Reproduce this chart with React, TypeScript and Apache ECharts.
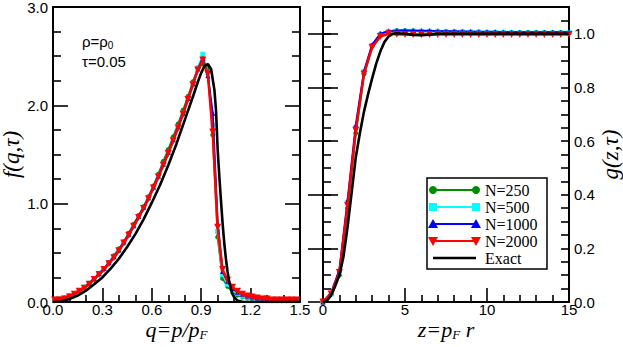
import React, { useEffect, useRef } from "react";
import * as echarts from "echarts";

// ---------- Left panel: f(q, tau) ----------
const qGrid = [
  0.01, 0.04, 0.07, 0.10, 0.13, 0.16, 0.19, 0.22, 0.25, 0.28,
  0.31, 0.34, 0.37, 0.40, 0.43, 0.46, 0.49, 0.52, 0.55, 0.58,
  0.61, 0.64, 0.67, 0.70, 0.73, 0.76, 0.79, 0.82, 0.85, 0.88,
  0.91, 0.94, 0.97, 1.00, 1.03, 1.06, 1.09, 1.12, 1.15, 1.18,
  1.21, 1.24, 1.27, 1.30, 1.33, 1.36, 1.39, 1.42, 1.45, 1.48,
];
const fN250 = [
  0.02, 0.03, 0.04, 0.06, 0.08, 0.11, 0.15, 0.19, 0.23, 0.29,
  0.34, 0.40, 0.47, 0.54, 0.61, 0.70, 0.79, 0.88, 0.97, 1.07,
  1.18, 1.30, 1.43, 1.55, 1.68, 1.81, 1.95, 2.09, 2.24, 2.38,
  2.42, 2.38, 1.70, 0.66, 0.24, 0.16, 0.10, 0.07, 0.05, 0.04,
  0.03, 0.03, 0.02, 0.02, 0.02, 0.02, 0.02, 0.02, 0.02, 0.02,
];
const fN500 = [
  0.02, 0.03, 0.04, 0.06, 0.08, 0.11, 0.15, 0.19, 0.23, 0.28,
  0.34, 0.40, 0.46, 0.53, 0.60, 0.68, 0.77, 0.87, 0.96, 1.06,
  1.16, 1.28, 1.40, 1.52, 1.65, 1.78, 1.92, 2.07, 2.22, 2.38,
  2.52, 2.33, 1.80, 0.72, 0.28, 0.18, 0.12, 0.09, 0.06, 0.05,
  0.04, 0.03, 0.03, 0.02, 0.02, 0.02, 0.02, 0.02, 0.02, 0.02,
];
const fN1000 = [
  0.03, 0.03, 0.04, 0.06, 0.09, 0.12, 0.15, 0.19, 0.24, 0.29,
  0.34, 0.40, 0.46, 0.53, 0.61, 0.69, 0.78, 0.87, 0.96, 1.06,
  1.17, 1.28, 1.40, 1.52, 1.65, 1.78, 1.92, 2.07, 2.22, 2.37,
  2.48, 2.30, 1.92, 0.80, 0.31, 0.21, 0.14, 0.10, 0.08, 0.06,
  0.05, 0.04, 0.04, 0.03, 0.03, 0.03, 0.03, 0.03, 0.03, 0.03,
];
const fN2000 = [
  0.02, 0.02, 0.03, 0.05, 0.08, 0.11, 0.14, 0.18, 0.23, 0.28,
  0.33, 0.39, 0.45, 0.52, 0.60, 0.68, 0.77, 0.86, 0.95, 1.05,
  1.16, 1.27, 1.39, 1.51, 1.64, 1.77, 1.91, 2.06, 2.21, 2.36,
  2.46, 2.32, 1.73, 0.76, 0.33, 0.22, 0.15, 0.11, 0.08, 0.06,
  0.05, 0.04, 0.03, 0.03, 0.02, 0.02, 0.02, 0.02, 0.02, 0.02,
];
const qExact = [
  0.0, 0.05, 0.10, 0.15, 0.20, 0.25, 0.30, 0.35, 0.40, 0.45,
  0.50, 0.55, 0.60, 0.65, 0.70, 0.75, 0.80, 0.85, 0.88, 0.90,
  0.92, 0.94, 0.96, 0.98, 0.99, 1.00, 1.01, 1.02, 1.03, 1.04,
  1.05, 1.06, 1.07, 1.08, 1.09, 1.10, 1.12, 1.15, 1.20, 1.30,
  1.40, 1.50,
];
const fExact = [
  0.0, 0.005, 0.03, 0.065, 0.115, 0.18, 0.25, 0.34, 0.44, 0.56,
  0.69, 0.84, 1.01, 1.19, 1.39, 1.61, 1.85, 2.09, 2.24, 2.33,
  2.40, 2.42, 2.37, 2.16, 1.95, 1.55, 1.28, 1.03, 0.80, 0.60,
  0.44, 0.31, 0.21, 0.14, 0.08, 0.05, 0.015, 0.003, 0.0, 0.0,
  0.0, 0.0,
];

// ---------- Right panel: g(z, tau) ----------
const zGrid = [
  0, 0.5, 1, 1.5, 2, 2.5, 3, 3.5, 4, 4.5,
  5, 5.5, 6, 6.5, 7, 7.5, 8, 8.5, 9, 9.5,
  10, 10.5, 11, 11.5, 12, 12.5, 13, 13.5, 14, 14.5, 15,
];
const gN250 = [
  0, 0.03, 0.10, 0.35, 0.63, 0.85, 0.955, 1.0, 1.01, 1.012,
  1.012, 1.011, 1.01, 1.01, 1.01, 1.009, 1.008, 1.008, 1.007, 1.007,
  1.006, 1.006, 1.006, 1.005, 1.005, 1.005, 1.005, 1.005, 1.005, 1.005, 1.005,
];
const gN500 = [
  0, 0.03, 0.115, 0.37, 0.65, 0.86, 0.955, 0.995, 1.008, 1.01,
  1.01, 1.01, 1.009, 1.009, 1.008, 1.008, 1.007, 1.007, 1.006, 1.006,
  1.005, 1.005, 1.005, 1.005, 1.004, 1.004, 1.004, 1.004, 1.004, 1.004, 1.004,
];
const gN1000 = [
  0, 0.035, 0.12, 0.38, 0.66, 0.86, 0.96, 1.0, 1.01, 1.012,
  1.012, 1.012, 1.011, 1.011, 1.01, 1.01, 1.01, 1.009, 1.009, 1.008,
  1.008, 1.008, 1.007, 1.007, 1.007, 1.007, 1.007, 1.007, 1.007, 1.007, 1.007,
];
const gN2000 = [
  0, 0.03, 0.11, 0.36, 0.64, 0.85, 0.95, 0.99, 1.0, 0.998,
  0.997, 0.997, 0.997, 0.997, 0.997, 0.997, 0.997, 0.997, 0.997, 0.997,
  0.997, 0.997, 0.997, 0.997, 0.997, 0.997, 0.997, 0.997, 0.997, 0.997, 0.997,
];
const zExact = [
  0, 0.25, 0.5, 0.75, 1.0, 1.25, 1.5, 1.75, 2.0, 2.25,
  2.5, 2.75, 3.0, 3.25, 3.5, 3.75, 4.0, 4.25, 4.5, 5.0,
  5.5, 6.0, 6.5, 7.0, 8.0, 10.0, 12.0, 15.0,
];
const gExact = [
  0, 0.005, 0.025, 0.06, 0.10, 0.17, 0.28, 0.41, 0.54, 0.63,
  0.71, 0.775, 0.835, 0.89, 0.935, 0.97, 0.99, 1.0, 1.002, 1.0,
  0.996, 0.995, 0.997, 1.0, 1.0, 1.0, 1.0, 1.0,
];

const seriesNames = ["N=250", "N=500", "N=1000", "N=2000", "Exact"];
const seriesColors = ["#008c00", "#00ffff", "#0000ff", "#ff0000", "#000000"];

const pairs = (xs: number[], ys: number[]) => xs.map((x, i) => [x, ys[i]]);

const SANS = "Liberation Sans";
const SERIF = "Liberation Serif";

export default function App() {
  const ref = useRef<HTMLDivElement>(null);

  useEffect(() => {
    document.body.style.margin = "0";
    if (!ref.current) return;
    const chart = echarts.init(ref.current, undefined, { renderer: "svg" });

    const labelStyle = { fontFamily: SANS, fontSize: 15, color: "#000" };
    const xLabelStyle = { ...labelStyle, lineHeight: 13, margin: 1 };
    const tickMajor = (len: number) => ({
      show: true,
      inside: true,
      length: len,
      lineStyle: { color: "#000", width: 1.6 },
    });
    const nameRich = {
      a: { fontFamily: SERIF, fontStyle: "italic", fontSize: 22, lineHeight: 24, color: "#000" },
      b: { fontFamily: SERIF, fontStyle: "italic", fontSize: 13, lineHeight: 10, verticalAlign: "bottom", color: "#000" },
    };

    const markerDefs = [
      { symbol: "circle", size: 5, rotate: 0 },
      { symbol: "rect", size: 5, rotate: 0 },
      { symbol: "triangle", size: 5, rotate: 0 },
      { symbol: "triangle", size: 7, rotate: 180 },
    ];

    const leftData = [fN250, fN500, fN1000, fN2000];
    const rightData = [gN250, gN500, gN1000, gN2000];

    const series: any[] = [];
    leftData.forEach((ys, i) => {
      series.push({
        type: "line",
        name: seriesNames[i],
        xAxisIndex: 0,
        yAxisIndex: 0,
        data: pairs(qGrid, ys),
        symbol: markerDefs[i].symbol,
        symbolSize: markerDefs[i].size,
        symbolRotate: markerDefs[i].rotate,
        showSymbol: true,
        lineStyle: { color: seriesColors[i], width: i === 3 ? 2.5 : 2 },
        itemStyle: { color: seriesColors[i] },
        z: 2 + i,
      });
    });
    series.push({
      type: "line",
      name: "Exact",
      xAxisIndex: 0,
      yAxisIndex: 0,
      data: pairs(qExact, fExact),
      symbol: "none",
      lineStyle: { color: "#000", width: 2.6 },
      z: 10,
    });
    rightData.forEach((ys, i) => {
      series.push({
        type: "line",
        name: seriesNames[i],
        xAxisIndex: 1,
        yAxisIndex: 2,
        data: pairs(zGrid, ys),
        symbol: markerDefs[i].symbol,
        symbolSize: markerDefs[i].size,
        symbolRotate: markerDefs[i].rotate,
        showSymbol: true,
        lineStyle: { color: seriesColors[i], width: i === 3 ? 2.5 : 2 },
        itemStyle: { color: seriesColors[i] },
        z: 2 + i,
      });
    });
    series.push({
      type: "line",
      name: "Exact",
      xAxisIndex: 1,
      yAxisIndex: 2,
      data: pairs(zExact, gExact),
      symbol: "none",
      lineStyle: { color: "#000", width: 2.6 },
      z: 10,
    });

    // legend drawn as graphic
    const lx1 = 433, lx2 = 476, tx = 485;
    const rowY = [190, 207, 224, 241, 258];
    const legendEls: any[] = [
      {
        type: "rect",
        z: 100,
        shape: { x: 427, y: 178, width: 120, height: 91 },
        style: { fill: "#fff", stroke: "#000", lineWidth: 1.5 },
      },
    ];
    const mk = (kind: number, cx: number, cy: number, color: string) => {
      if (kind === 0) return { type: "circle", z: 102, shape: { cx, cy, r: 4 }, style: { fill: color } };
      if (kind === 1) return { type: "rect", z: 102, shape: { x: cx - 4, y: cy - 4, width: 8, height: 8 }, style: { fill: color } };
      if (kind === 2)
        return { type: "polygon", z: 102, shape: { points: [[cx, cy - 5], [cx + 5, cy + 4], [cx - 5, cy + 4]] }, style: { fill: color } };
      return { type: "polygon", z: 102, shape: { points: [[cx - 5, cy - 4], [cx + 5, cy - 4], [cx, cy + 5]] }, style: { fill: color } };
    };
    seriesNames.forEach((nm, i) => {
      const y = rowY[i];
      legendEls.push({
        type: "line",
        z: 101,
        shape: { x1: lx1, y1: y, x2: lx2, y2: y },
        style: { stroke: seriesColors[i], lineWidth: i === 4 ? 2.6 : 2.2 },
      });
      if (i < 4) {
        legendEls.push(mk(i, lx1, y, seriesColors[i]));
        legendEls.push(mk(i, lx2, y, seriesColors[i]));
      }
      legendEls.push({
        type: "text",
        z: 102,
        x: tx,
        y: y,
        style: {
          text: nm,
          fontFamily: SERIF,
          fontSize: 16,
          fill: "#000",
          verticalAlign: "middle",
          align: "left",
        },
      });
    });

    const annot: any[] = [
      {
        type: "text",
        z: 100,
        x: 82,
        y: 41,
        style: {
          text: "{a|ρ=ρ}{b|0}",
          verticalAlign: "middle",
          rich: {
            a: { fontFamily: SANS, fontSize: 15, lineHeight: 18, fill: "#000" },
            b: { fontFamily: SANS, fontSize: 10, lineHeight: 10, verticalAlign: "bottom", fill: "#000" },
          },
        },
      },
      {
        type: "text",
        z: 100,
        x: 82,
        y: 61,
        style: { text: "τ=0.05", fontFamily: SANS, fontSize: 15, fill: "#000", verticalAlign: "middle" },
      },
    ];

    const hiddenLabel = { show: false };
    const noLine = { show: false };
    const gridBase = {
      top: 7,
      height: 295,
      show: true,
      borderColor: "#000",
      borderWidth: 2,
      backgroundColor: "transparent",
      outerBoundsMode: "none",
      containLabel: false,
    };
    const yNameStyle = { fontFamily: SERIF, fontStyle: "italic", fontSize: 23, color: "#000" };

    const option: any = {
      animation: false,
      backgroundColor: "#fff",
      grid: [
        { ...gridBase, left: 53, width: 247 },
        { ...gridBase, left: 323, width: 246 },
      ],
      xAxis: [
        {
          type: "value",
          gridIndex: 0,
          position: "bottom",
          min: 0,
          max: 1.5,
          interval: 0.3,
          axisLine: noLine,
          splitLine: { show: false },
          axisTick: tickMajor(14),
          minorTick: { show: true, splitNumber: 3, length: 7, lineStyle: { color: "#000", width: 1.6 } },
          axisLabel: { ...xLabelStyle, formatter: (v: number) => v.toFixed(1) },
          name: "{a|q=p/p}{b|F}",
          nameLocation: "middle",
          nameGap: 15,
          nameMoveOverlap: false,
          nameTextStyle: { rich: nameRich, verticalAlign: "top" },
        },
        {
          type: "value",
          gridIndex: 1,
          position: "bottom",
          min: 0,
          max: 15,
          interval: 5,
          axisLine: noLine,
          splitLine: { show: false },
          axisTick: tickMajor(14),
          minorTick: { show: true, splitNumber: 5, length: 7, lineStyle: { color: "#000", width: 1.6 } },
          axisLabel: { ...xLabelStyle, formatter: (v: number) => String(Math.round(v)) },
          name: "{a|z=p}{b|F}{a| r}",
          nameLocation: "middle",
          nameGap: 15,
          nameMoveOverlap: false,
          nameTextStyle: { rich: nameRich, verticalAlign: "top" },
        },
      ],
      yAxis: [
        {
          type: "value",
          gridIndex: 0,
          position: "left",
          min: 0,
          max: 3,
          interval: 1,
          axisLine: noLine,
          splitLine: { show: false },
          axisTick: tickMajor(15),
          minorTick: { show: true, splitNumber: 4, length: 8, lineStyle: { color: "#000", width: 1.6 } },
          axisLabel: { ...labelStyle, margin: 5, formatter: (v: number) => v.toFixed(1) },
          name: "f(q,τ)",
          nameLocation: "middle",
          nameRotate: 90,
          nameGap: 26,
          nameTextStyle: yNameStyle,
        },
        {
          type: "value",
          gridIndex: 0,
          position: "right",
          min: 0,
          max: 3,
          interval: 1,
          axisLine: noLine,
          splitLine: { show: false },
          axisTick: tickMajor(15),
          minorTick: { show: true, splitNumber: 4, length: 8, lineStyle: { color: "#000", width: 1.6 } },
          axisLabel: hiddenLabel,
        },
        {
          type: "value",
          gridIndex: 1,
          position: "right",
          min: 0,
          max: 1.1,
          interval: 0.2,
          axisLine: noLine,
          splitLine: { show: false },
          axisTick: tickMajor(15),
          axisLabel: { ...labelStyle, margin: 5, showMaxLabel: false, formatter: (v: number) => (v > 1.05 ? "" : v.toFixed(1)) },
          name: "g(z,τ)",
          nameLocation: "middle",
          nameRotate: 90,
          nameGap: 28,
          nameTextStyle: yNameStyle,
        },
        {
          type: "value",
          gridIndex: 1,
          position: "right",
          min: 0,
          max: 1.1,
          interval: 0.05,
          axisLine: noLine,
          splitLine: { show: false },
          axisTick: tickMajor(8),
          axisLabel: hiddenLabel,
        },
        {
          type: "value",
          gridIndex: 1,
          position: "left",
          min: 0,
          max: 1.1,
          interval: 0.2,
          axisLine: noLine,
          splitLine: { show: false },
          axisTick: tickMajor(15),
          axisLabel: hiddenLabel,
        },
        {
          type: "value",
          gridIndex: 1,
          position: "left",
          min: 0,
          max: 1.1,
          interval: 0.05,
          axisLine: noLine,
          splitLine: { show: false },
          axisTick: tickMajor(8),
          axisLabel: hiddenLabel,
        },
      ],
      series,
      graphic: [...annot, ...legendEls],
    };

    chart.setOption(option);
    return () => chart.dispose();
  }, []);

  return <div ref={ref} style={{ width: 623, height: 347 }} />;
}
